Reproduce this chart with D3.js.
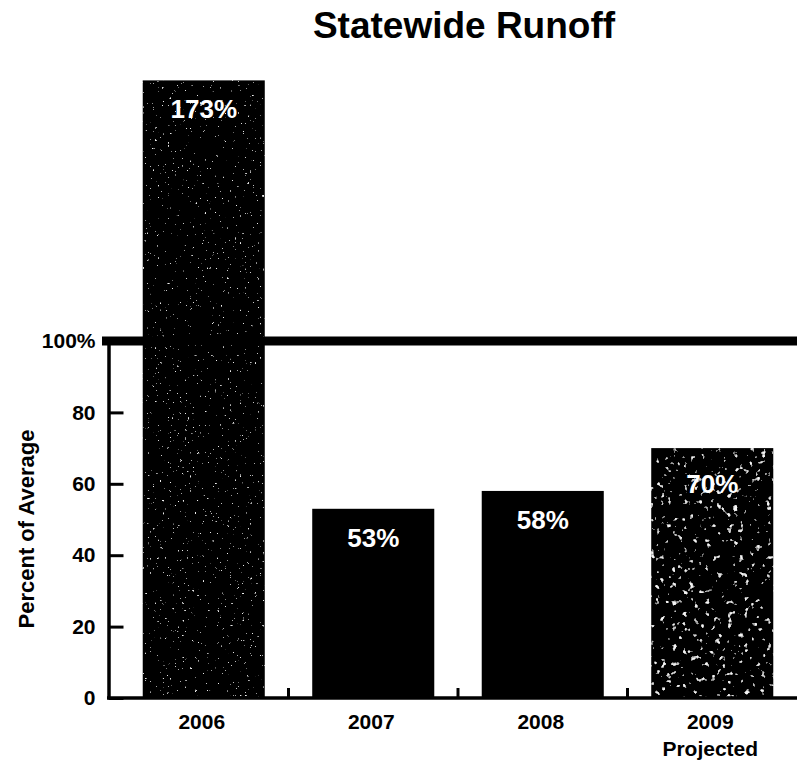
<!DOCTYPE html>
<html>
<head>
<meta charset="utf-8">
<script src="https://cdn.jsdelivr.net/npm/d3@7"></script>
<style>
  html, body { margin: 0; padding: 0; background: #fff; }
  svg { display: block; }
  text { font-family: "Liberation Sans", Arial, Helvetica, sans-serif; }
</style>
</head>
<body>
<svg id="chart" width="797" height="763"></svg>
<script>
// Statewide runoff, percent of average by water year
const years = ["2006", "2007", "2008", "2009"];
const subLabels = ["", "", "", "Projected"];
const runoff = [173, 53, 58, 70];
const barStyle = ["grainLight", "solid", "solid", "grainHeavy"];
const yTicks = [0, 20, 40, 60, 80, 100];
const yTitle = "Percent of Average";
const title = "Statewide Runoff";

const W = 797, H = 763;
const axisX = 108.5, baseY = 698;

const svg = d3.select("#chart");

// speckled fills for the two estimated-year style bars
const defs = svg.append("defs");
function grain(id, freq, gain, offset, seed, tone) {
  const f = defs.append("filter").attr("id", id)
    .attr("x", 0).attr("y", 0).attr("width", 1).attr("height", 1);
  f.append("feTurbulence").attr("type", "fractalNoise")
    .attr("baseFrequency", freq).attr("numOctaves", 2).attr("seed", seed)
    .attr("result", "noise");
  f.append("feColorMatrix").attr("in", "noise").attr("type", "matrix")
    .attr("values", `0 0 0 0 ${tone}  0 0 0 0 ${tone}  0 0 0 0 ${tone}  ${gain} 0 0 0 ${offset}`)
    .attr("result", "specks");
  f.append("feComposite").attr("in", "specks").attr("in2", "SourceAlpha")
    .attr("operator", "in").attr("result", "clipped");
  const m = f.append("feMerge");
  m.append("feMergeNode").attr("in", "SourceGraphic");
  m.append("feMergeNode").attr("in", "clipped");
}
grain("grainLight", 0.4, 10, -7.3, 4, 0.85);
grain("grainHeavy", 0.18, 8, -5.2, 9, 0.9);

const x = d3.scaleBand().domain(years).range([119, W])
  .paddingInner(0.28).paddingOuter(0.14);
const y = d3.scaleLinear().domain([0, 100]).range([baseY, 341]);

// title
svg.append("text")
  .attr("x", 464).attr("y", 38)
  .attr("text-anchor", "middle")
  .attr("font-size", 37).attr("font-weight", "bold")
  .text(title);

// bars
svg.append("g").selectAll("rect")
  .data(years)
  .join("rect")
  .attr("x", d => x(d))
  .attr("width", x.bandwidth())
  .attr("y", (d, i) => y(runoff[i]))
  .attr("height", (d, i) => baseY - y(runoff[i]))
  .attr("fill", "#000")
  .attr("filter", (d, i) => barStyle[i] === "solid" ? null : `url(#${barStyle[i]})`);

// value labels
svg.append("g").selectAll("text")
  .data(years)
  .join("text")
  .attr("x", d => x(d) + x.bandwidth() / 2)
  .attr("y", (d, i) => y(runoff[i]) + (i === 3 ? 45 : 38))
  .attr("text-anchor", "middle")
  .attr("fill", "#fff")
  .attr("font-size", 26).attr("font-weight", "bold")
  .text((d, i) => runoff[i] + "%");

// y axis: ticks point into the plot, labels to the left
const yAxis = d3.axisLeft(y)
  .tickValues(yTicks)
  .tickSizeInner(-15).tickSizeOuter(0).tickPadding(13)
  .tickFormat(d => d === 100 ? "100%" : d);
const gy = svg.append("g").attr("transform", `translate(${axisX},0)`).call(yAxis);
gy.select(".domain").attr("stroke", "#000").attr("stroke-width", 3.5);
gy.selectAll(".tick line").attr("stroke", "#000").attr("stroke-width", 3);
gy.selectAll(".tick text")
  .attr("fill", "#000").attr("font-size", 21).attr("font-weight", "bold")
  .attr("font-family", "'Liberation Sans', Arial, sans-serif");

// baseline
svg.append("line")
  .attr("x1", axisX - 1.5).attr("x2", W)
  .attr("y1", baseY).attr("y2", baseY)
  .attr("stroke", "#000").attr("stroke-width", 3.5);

// separators between categories on the baseline
const step = x.step(), bw = x.bandwidth();
svg.append("g").selectAll("line")
  .data(years.slice(0, -1))
  .join("line")
  .attr("x1", d => x(d) + bw + (step - bw) / 2)
  .attr("x2", d => x(d) + bw + (step - bw) / 2)
  .attr("y1", baseY).attr("y2", baseY - 10)
  .attr("stroke", "#000").attr("stroke-width", 3);

// category labels
const xAxis = d3.axisBottom(x).tickSize(0).tickPadding(0).tickFormat("");
const gx = svg.append("g").attr("transform", `translate(0,${baseY})`).call(xAxis);
gx.select(".domain").remove();
gx.selectAll(".tick").each(function (d, i) {
  const t = d3.select(this).append("text")
    .attr("text-anchor", "middle")
    .attr("fill", "#000")
    .attr("font-size", 21).attr("font-weight", "bold")
    .attr("font-family", "'Liberation Sans', Arial, sans-serif");
  t.append("tspan").attr("x", -2).attr("y", 31).text(d);
  if (subLabels[i]) t.append("tspan").attr("x", -2).attr("y", 58).text(subLabels[i]);
});

// 100% reference line
svg.append("line")
  .attr("x1", 102).attr("x2", W)
  .attr("y1", y(100)).attr("y2", y(100))
  .attr("stroke", "#000").attr("stroke-width", 9);

// y axis title
svg.append("text")
  .attr("transform", `translate(34,529) rotate(-90)`)
  .attr("text-anchor", "middle")
  .attr("font-size", 22).attr("font-weight", "bold")
  .text(yTitle);
</script>
</body>
</html>
